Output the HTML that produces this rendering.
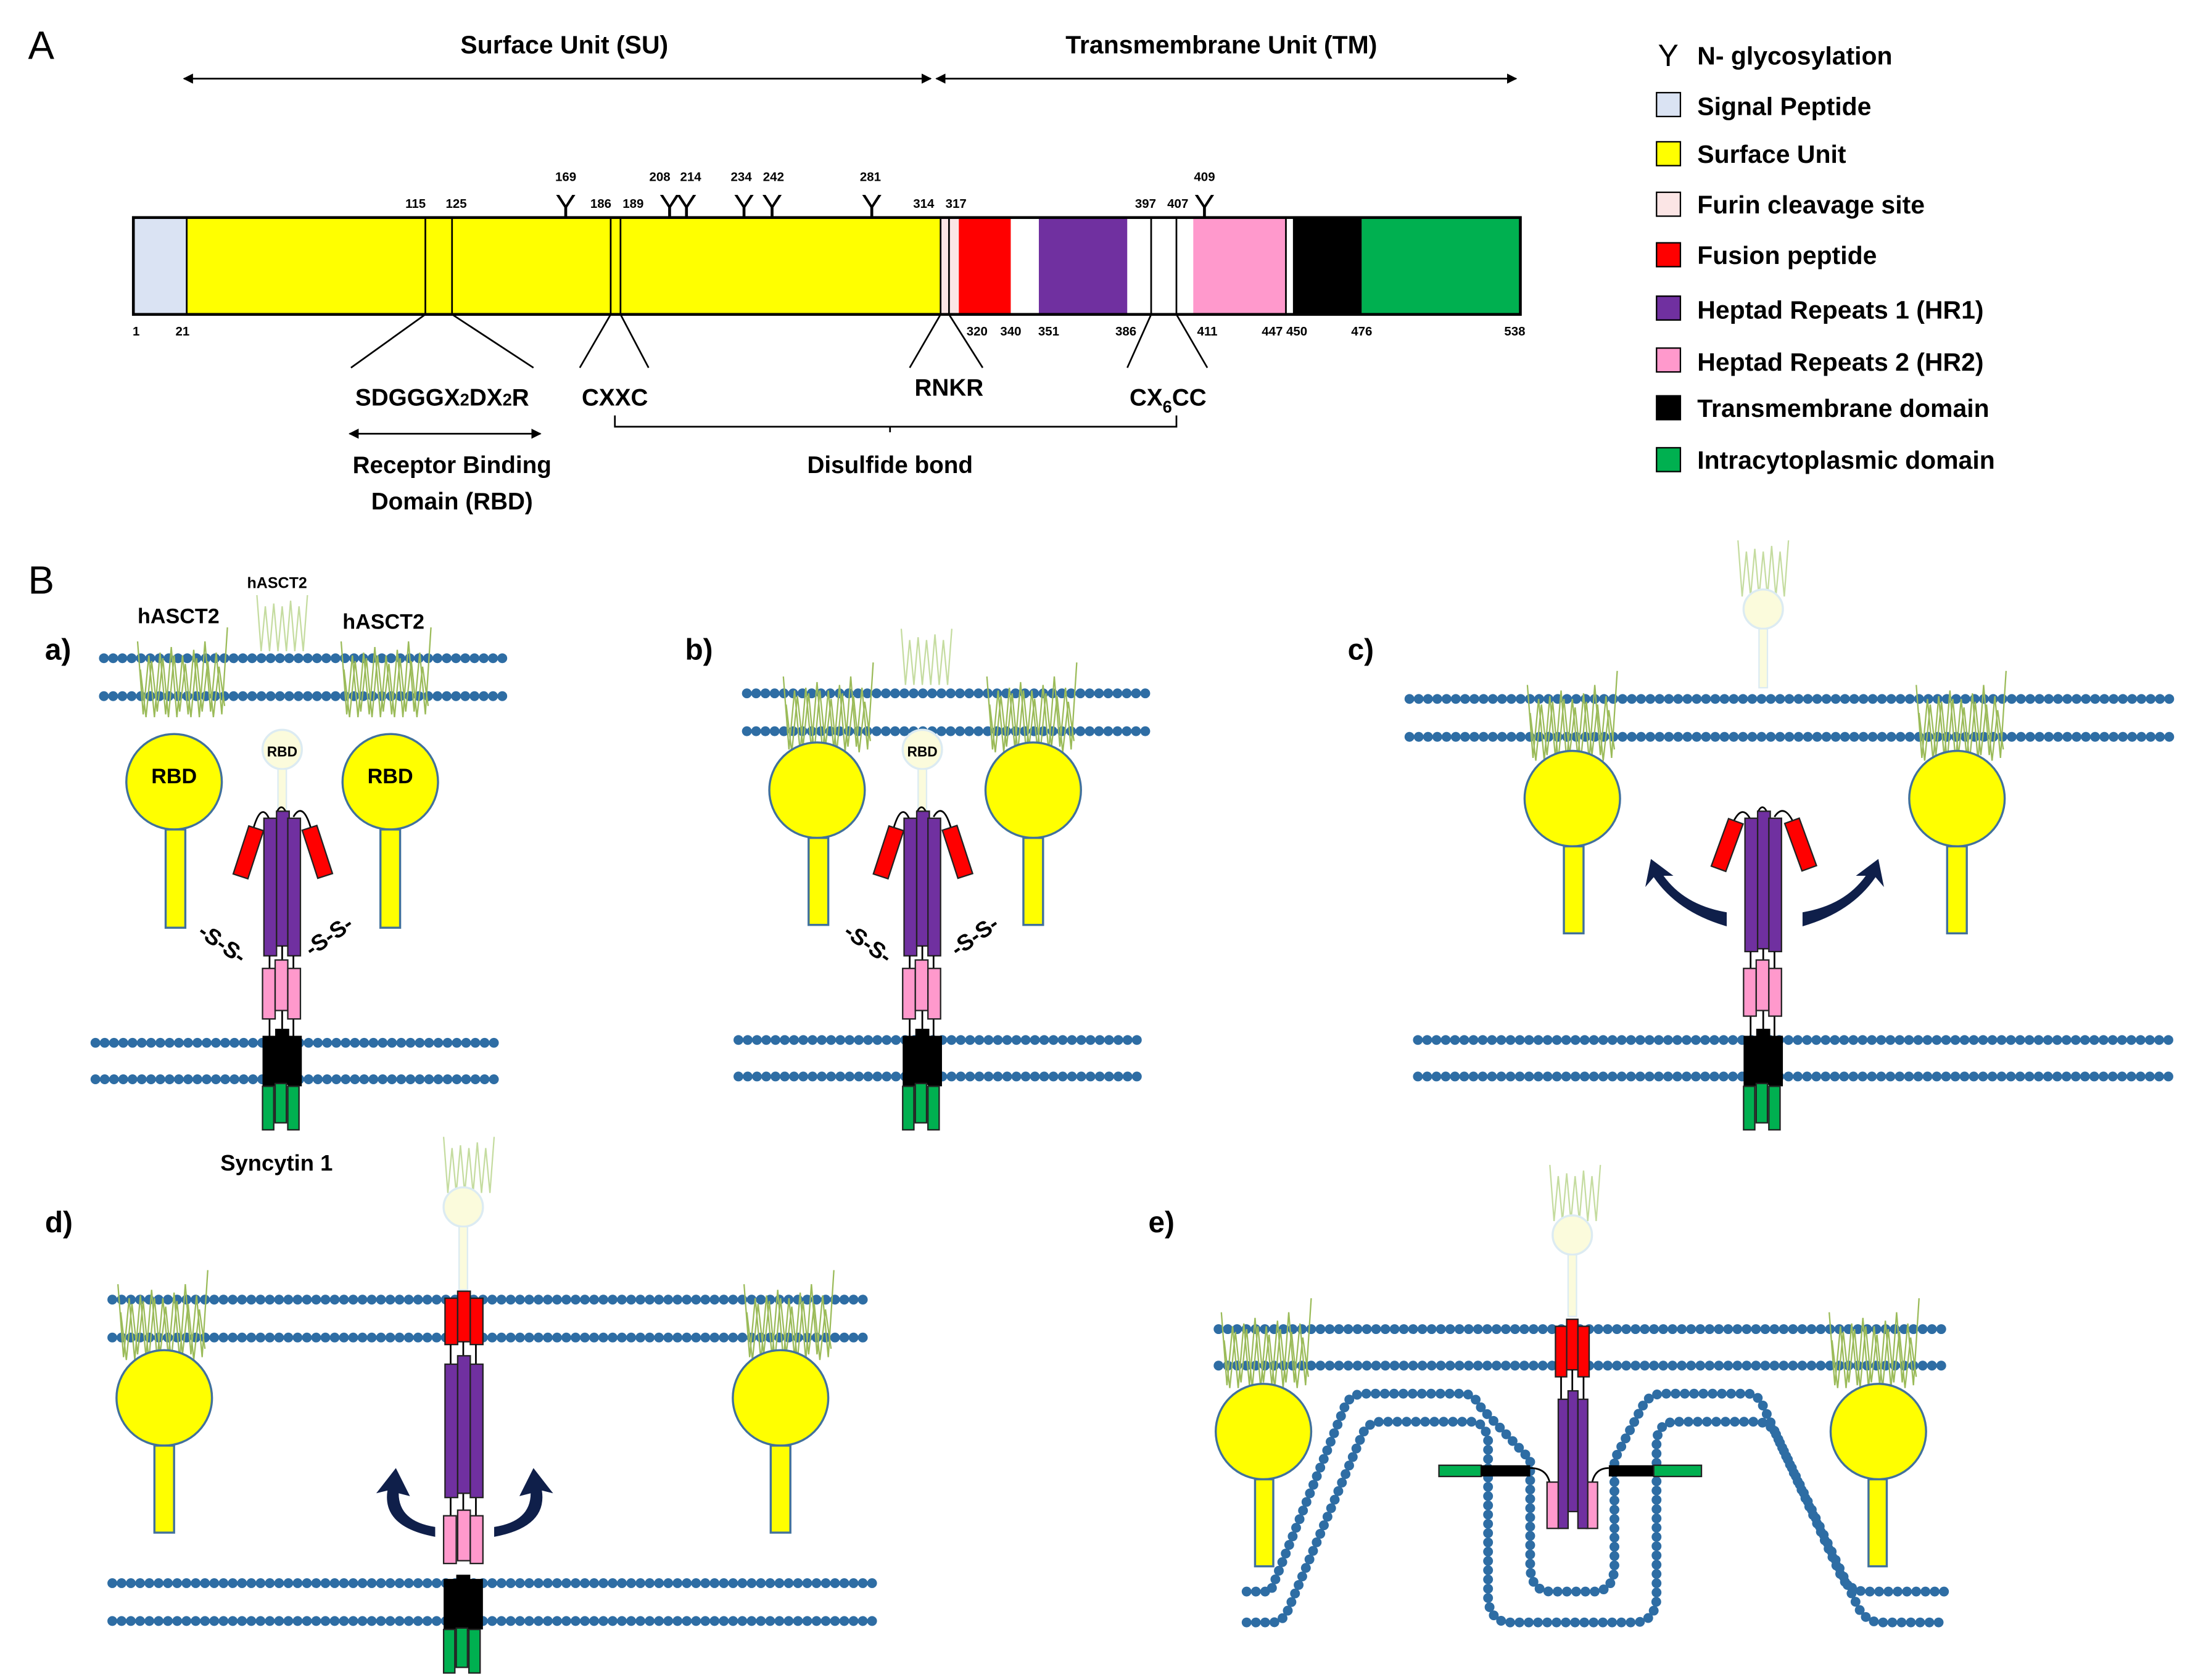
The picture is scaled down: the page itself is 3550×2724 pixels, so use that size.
<!DOCTYPE html>
<html><head><meta charset="utf-8"><style>
html,body{margin:0;padding:0;background:#fff;}
svg{display:block;}
text{font-family:"Liberation Sans",sans-serif;fill:#000;}
.m{fill:none;stroke:#2e6da4;stroke-width:7;stroke-dasharray:0 6.6;stroke-linecap:round;}
.b{font-weight:bold;}
.lg{font-size:18px;font-weight:bold;}
.n{font-size:9px;font-weight:bold;}
.ln{stroke:#000;stroke-width:1.2;fill:none;}
.pu{fill:#7030a0;stroke:#222;stroke-width:1}
.re{fill:#ff0000;stroke:#222;stroke-width:1}
.pk{fill:#ff99cc;stroke:#222;stroke-width:1}
.bk{fill:#000;}
.gr{fill:#00b050;stroke:#222;stroke-width:1}
.ye{fill:#ffff00;stroke:#41719c;stroke-width:1.5}
.hz{fill:none;stroke:#9bbb59;stroke-width:1}
.fz{fill:none;stroke:#c5dca0;stroke-width:1}
</style></head><body>
<svg width="3550" height="2724" viewBox="0 0 1560 1197" xmlns="http://www.w3.org/2000/svg">
<defs>
<marker id="ar" viewBox="0 0 10 10" refX="9" refY="5" markerWidth="6" markerHeight="6" orient="auto-start-reverse"><path d="M0,0L10,5L0,10z" fill="#000"/></marker>
<g id="hz"><polyline class="hz" points="0,10 4,62 8,20 12,64 16,18 20,62 24,14 28,64 32,20 36,62 40,16 44,64 48,10 52,60 56,18 60,62 64,0"/><polyline class="hz" points="2,30 6,64 10,24 14,60 18,22 22,64 26,20 30,60 34,26 38,64 42,22 46,60 50,24 54,64 58,28 62,56"/></g>
<g id="fz"><polyline class="fz" points="0,0 3,40 6,8 9,40 12,6 15,40 18,8 21,40 24,4 27,40 30,8 33,40 36,0"/></g>
</defs>

<!-- Panel A -->
<text x="20" y="42" font-size="28">A</text>
<text x="402" y="38" font-size="18" text-anchor="middle" class="b">Surface Unit (SU)</text>
<text x="870" y="38" font-size="18" text-anchor="middle" class="b">Transmembrane Unit (TM)</text>
<line x1="131" y1="56" x2="663" y2="56" class="ln" marker-start="url(#ar)" marker-end="url(#ar)"/>
<line x1="667" y1="56" x2="1080" y2="56" class="ln" marker-start="url(#ar)" marker-end="url(#ar)"/>

<rect x="95" y="155" width="38" height="69" fill="#dae3f3"/>
<rect x="133" y="155" width="537" height="69" fill="#ffff00"/>
<rect x="670" y="155" width="13" height="69" fill="#fbe5e5"/>
<rect x="683" y="155" width="37" height="69" fill="#ff0000"/>
<rect x="720" y="155" width="20" height="69" fill="#fff"/>
<rect x="740" y="155" width="63" height="69" fill="#7030a0"/>
<rect x="803" y="155" width="47" height="69" fill="#fff"/>
<rect x="850" y="155" width="66" height="69" fill="#ff99cc"/>
<rect x="921" y="155" width="49" height="69" fill="#000"/>
<rect x="970" y="155" width="113" height="69" fill="#00b050"/>
<rect x="95" y="155" width="988" height="69" fill="none" stroke="#000" stroke-width="2"/>
<g class="ln"><line x1="133" y1="155" x2="133" y2="224"/><line x1="303" y1="155" x2="303" y2="224"/><line x1="322" y1="155" x2="322" y2="224"/><line x1="435" y1="155" x2="435" y2="224"/><line x1="442" y1="155" x2="442" y2="224"/><line x1="670" y1="155" x2="670" y2="224"/><line x1="676" y1="155" x2="676" y2="224"/><line x1="820" y1="155" x2="820" y2="224"/><line x1="838" y1="155" x2="838" y2="224"/><line x1="916" y1="155" x2="916" y2="224"/>
<line x1="303" y1="224" x2="250" y2="262"/><line x1="322" y1="224" x2="380" y2="262"/><line x1="435" y1="224" x2="413" y2="262"/><line x1="442" y1="224" x2="462" y2="262"/><line x1="670" y1="224" x2="648" y2="262"/><line x1="676" y1="224" x2="700" y2="262"/><line x1="820" y1="224" x2="803" y2="262"/><line x1="838" y1="224" x2="860" y2="262"/>
<path d="M438,296V304H838V296M634,304V308"/></g>
<g class="n" text-anchor="middle">
<text x="97" y="239">1</text><text x="130" y="239">21</text><text x="696" y="239">320</text><text x="720" y="239">340</text><text x="747" y="239">351</text><text x="802" y="239">386</text><text x="860" y="239">411</text><text x="915" y="239">447 450</text><text x="970" y="239">476</text><text x="1079" y="239">538</text>
<text x="296" y="148">115</text><text x="325" y="148">125</text><text x="428" y="148">186</text><text x="451" y="148">189</text><text x="658" y="148">314</text><text x="681" y="148">317</text><text x="816" y="148">397</text><text x="839" y="148">407</text>
<text x="403" y="129">169</text><text x="470" y="129">208</text><text x="492" y="129">214</text><text x="528" y="129">234</text><text x="551" y="129">242</text><text x="620" y="129">281</text><text x="858" y="129">409</text>
</g>
<g font-size="22" text-anchor="middle"><text x="403" y="154">Y</text><text x="477" y="154">Y</text><text x="489" y="154">Y</text><text x="530" y="154">Y</text><text x="550" y="154">Y</text><text x="621" y="154">Y</text><text x="858" y="154">Y</text></g>
<g class="b" font-size="17" text-anchor="middle">
<text x="315" y="289">SDGGGX<tspan font-size="12">2</tspan>DX<tspan font-size="12">2</tspan>R</text>
<text x="438" y="289">CXXC</text><text x="676" y="282">RNKR</text><text x="832" y="289">CX<tspan font-size="12" dy="5">6</tspan><tspan dy="-5">CC</tspan></text>
<text x="322" y="337">Receptor Binding</text><text x="322" y="363">Domain (RBD)</text><text x="634" y="337">Disulfide bond</text>
</g>
<line x1="249" y1="309" x2="385" y2="309" class="ln" stroke-width="2" marker-start="url(#ar)" marker-end="url(#ar)"/>

<!-- Legend -->
<g class="lg">
<text x="1181" y="47" font-size="22" font-weight="normal">Y</text><text x="1209" y="46">N- glycosylation</text>
<rect x="1180" y="66" width="17" height="17" fill="#dae3f3" stroke="#000"/><text x="1209" y="82">Signal Peptide</text>
<rect x="1180" y="101" width="17" height="17" fill="#ffff00" stroke="#000"/><text x="1209" y="116">Surface Unit</text>
<rect x="1180" y="137" width="17" height="17" fill="#fbe5e5" stroke="#000"/><text x="1209" y="152">Furin cleavage site</text>
<rect x="1180" y="173" width="17" height="17" fill="#ff0000" stroke="#000"/><text x="1209" y="188">Fusion peptide</text>
<rect x="1180" y="211" width="17" height="17" fill="#7030a0" stroke="#000"/><text x="1209" y="227">Heptad Repeats 1 (HR1)</text>
<rect x="1180" y="248" width="17" height="17" fill="#ff99cc" stroke="#000"/><text x="1209" y="264">Heptad Repeats 2 (HR2)</text>
<rect x="1180" y="282" width="17" height="17" fill="#000" stroke="#000"/><text x="1209" y="297">Transmembrane domain</text>
<rect x="1180" y="319" width="17" height="17" fill="#00b050" stroke="#000"/><text x="1209" y="334">Intracytoplasmic domain</text>
</g>

<!-- Panel B -->
<text x="20" y="423" font-size="28">B</text>
<g class="b" font-size="21"><text x="32" y="470">a)</text><text x="488" y="470">b)</text><text x="960" y="470">c)</text><text x="32" y="878">d)</text><text x="818" y="878">e)</text></g>

<!-- a -->
<path class="m" d="M74,469H362M74,496H362M68,743H356M68,769H356"/>
<use href="#hz" x="98" y="447"/><use href="#hz" x="243" y="447"/>
<use href="#fz" x="183" y="424"/>
<g class="b" font-size="15"><text x="98" y="444">hASCT2</text><text x="244" y="448">hASCT2</text><text x="176" y="419" font-size="11">hASCT2</text></g>
<circle cx="124" cy="557" r="34" class="ye"/><rect x="118" y="591" width="14" height="70" class="ye"/>
<circle cx="278" cy="557" r="34" class="ye"/><rect x="271" y="591" width="14" height="70" class="ye"/>
<g class="b" font-size="15" text-anchor="middle"><text x="124" y="558">RBD</text><text x="278" y="558">RBD</text></g>

<g id="cx">
<circle cx="201" cy="534" r="14" fill="#fbfbdc" stroke="#dcebf2" stroke-width="1.5"/>
<text x="201" y="539" font-size="10" class="b" text-anchor="middle">RBD</text>
<rect x="198" y="548" width="6" height="32" fill="#fbfbdc" stroke="#dcebf2"/>
<path class="ln" stroke-width=".8" d="M180,592Q186,570 192,584M222,592Q216,570 209,582M197,579Q201,570 205,582"/>
<rect x="188" y="583" width="9" height="98" class="pu"/><rect x="197" y="578" width="9" height="96" class="pu"/><rect x="205" y="583" width="9" height="98" class="pu"/>
<rect x="-5" y="0" width="11" height="36" class="re" transform="translate(182,590) rotate(18)"/>
<rect x="-5" y="0" width="11" height="36" class="re" transform="translate(220,590) rotate(-18)"/>
<path class="ln" stroke-width=".8" d="M192,681V690M201,674V684M209,681V690M192,725V738M201,720V733M209,725V738"/>
<rect x="187" y="690" width="9" height="36" class="pk"/><rect x="196" y="684" width="9" height="36" class="pk"/><rect x="205" y="690" width="9" height="36" class="pk"/>
<rect x="187" y="738" width="10" height="36" class="bk"/><rect x="196" y="733" width="10" height="40" class="bk"/><rect x="205" y="738" width="10" height="36" class="bk"/>
<rect x="187" y="774" width="8" height="31" class="gr"/><rect x="196" y="772" width="8" height="28" class="gr"/><rect x="205" y="774" width="8" height="31" class="gr"/>
</g>
<g class="b" font-size="16"><text transform="translate(140,666) rotate(35)">-S-S-</text><text transform="translate(222,682) rotate(-35)">-S-S-</text></g>
<text x="197" y="834" class="b" font-size="16" text-anchor="middle">Syncytin 1</text>

<!-- b -->
<path class="m" d="M532,494H820M532,521H820M526,741H814M526,767H814"/>
<use href="#hz" x="558" y="472"/><use href="#hz" x="703" y="472"/>
<use href="#fz" x="642" y="448"/>
<circle cx="582" cy="563" r="34" class="ye"/><rect x="576" y="597" width="14" height="62" class="ye"/>
<circle cx="736" cy="563" r="34" class="ye"/><rect x="729" y="597" width="14" height="62" class="ye"/>
<use href="#cx" x="456" y="0"/>
<g class="b" font-size="16"><text transform="translate(600,666) rotate(35)">-S-S-</text><text transform="translate(682,682) rotate(-35)">-S-S-</text></g>

<!-- c -->
<path class="m" d="M1004,498H1546M1004,525H1546M1010,741H1546M1010,767H1546"/>
<use href="#hz" x="1088" y="478"/><use href="#hz" x="1365" y="478"/>
<use href="#fz" x="1238" y="385"/>
<circle cx="1120" cy="569" r="34" class="ye"/><rect x="1114" y="603" width="14" height="62" class="ye"/>
<circle cx="1394" cy="569" r="34" class="ye"/><rect x="1387" y="603" width="14" height="62" class="ye"/>
<circle cx="1256" cy="434" r="14" fill="#fbfbdc" stroke="#dcebf2" stroke-width="1.5"/>
<rect x="1253" y="448" width="6" height="42" fill="#fbfbdc" stroke="#dcebf2"/>
<path class="ln" stroke-width=".8" d="M1232,592Q1240,570 1247,584M1280,592Q1272,570 1264,582M1252,579Q1256,570 1260,582"/>
<rect x="1243" y="583" width="9" height="95" class="pu"/><rect x="1252" y="578" width="9" height="98" class="pu"/><rect x="1260" y="583" width="9" height="95" class="pu"/>
<rect x="-5" y="0" width="11" height="36" class="re" transform="translate(1236,585) rotate(20)"/>
<rect x="-5" y="0" width="11" height="36" class="re" transform="translate(1276,585) rotate(-20)"/>
<path class="ln" stroke-width=".8" d="M1247,678V690M1256,676V684M1264,678V690M1247,724V738M1256,720V733M1264,724V738"/>
<rect x="1242" y="690" width="9" height="34" class="pk"/><rect x="1251" y="684" width="9" height="36" class="pk"/><rect x="1260" y="690" width="9" height="34" class="pk"/>
<rect x="1242" y="738" width="10" height="36" class="bk"/><rect x="1251" y="733" width="10" height="40" class="bk"/><rect x="1260" y="738" width="10" height="36" class="bk"/>
<rect x="1242" y="774" width="8" height="31" class="gr"/><rect x="1251" y="772" width="8" height="28" class="gr"/><rect x="1260" y="774" width="8" height="31" class="gr"/>
<path d="M1230,660Q1195,650 1178,625L1172,632L1176,612L1192,624L1185,624Q1200,645 1230,650Z" fill="#0f1f4a"/>
<path d="M1284,660Q1319,650 1336,625L1342,632L1338,612L1322,624L1329,624Q1314,645 1284,650Z" fill="#0f1f4a"/>

<!-- d -->
<path class="m" d="M80,926H620M80,953H620M80,1128H626M80,1155H626"/>
<use href="#hz" x="84" y="905"/><use href="#hz" x="530" y="905"/>
<use href="#fz" x="316" y="810"/>
<circle cx="330" cy="860" r="14" fill="#fbfbdc" stroke="#dcebf2" stroke-width="1.5"/>
<rect x="327" y="874" width="6" height="45" fill="#fbfbdc" stroke="#dcebf2"/>
<circle cx="117" cy="996" r="34" class="ye"/><rect x="110" y="1030" width="14" height="62" class="ye"/>
<circle cx="556" cy="996" r="34" class="ye"/><rect x="549" y="1030" width="14" height="62" class="ye"/>
<rect x="317" y="925" width="9" height="33" class="re"/><rect x="326" y="920" width="9" height="36" class="re"/><rect x="335" y="925" width="9" height="33" class="re"/>
<path class="ln" stroke-width=".8" d="M321,958V972M339,958V972M330,956V966M321,1067V1080M339,1067V1080M330,1064V1076"/>
<rect x="317" y="972" width="9" height="95" class="pu"/><rect x="326" y="966" width="9" height="98" class="pu"/><rect x="335" y="972" width="9" height="95" class="pu"/>
<rect x="316" y="1080" width="9" height="34" class="pk"/><rect x="326" y="1076" width="9" height="36" class="pk"/><rect x="335" y="1080" width="9" height="34" class="pk"/>
<rect x="316" y="1125" width="10" height="36" class="bk"/><rect x="325" y="1122" width="10" height="40" class="bk"/><rect x="334" y="1125" width="10" height="36" class="bk"/>
<rect x="316" y="1161" width="8" height="31" class="gr"/><rect x="325" y="1160" width="8" height="28" class="gr"/><rect x="334" y="1161" width="8" height="31" class="gr"/>
<path d="M310,1095Q272,1088 276,1062L268,1064L282,1046L292,1066L284,1064Q284,1084 310,1088Z" fill="#0f1f4a"/>
<path d="M352,1095Q390,1088 386,1062L394,1064L380,1046L370,1066L378,1064Q378,1084 352,1088Z" fill="#0f1f4a"/>

<!-- e -->
<path class="m" d="M868,947H1386M868,973H1386"/>
<path class="m" d="M888,1134H905L958,1002Q962,993 972,993H1042Q1050,993 1055,1003L1090,1040V1115Q1090,1134 1105,1134H1135Q1150,1134 1150,1115V1040L1170,1002Q1175,993 1185,993H1245Q1252,993 1256,1002L1312,1124Q1318,1134 1330,1134H1385"/>
<path class="m" d="M888,1156H906Q914,1156 918,1146L970,1023Q974,1013 984,1013H1048Q1058,1013 1060,1026V1140Q1062,1156 1076,1156H1164Q1178,1156 1180,1140V1026Q1182,1013 1194,1013H1250Q1262,1013 1266,1024L1324,1146Q1330,1156 1340,1156H1385"/>
<use href="#hz" x="870" y="925"/><use href="#hz" x="1303" y="925"/>
<use href="#fz" x="1104" y="830"/>
<circle cx="1120" cy="880" r="14" fill="#fbfbdc" stroke="#dcebf2" stroke-width="1.5"/>
<rect x="1117" y="894" width="6" height="44" fill="#fbfbdc" stroke="#dcebf2"/>
<circle cx="900" cy="1020" r="34" class="ye"/><rect x="894" y="1054" width="13" height="62" class="ye"/>
<circle cx="1338" cy="1020" r="34" class="ye"/><rect x="1331" y="1054" width="13" height="62" class="ye"/>
<rect x="1108" y="945" width="8" height="36" class="re"/><rect x="1116" y="940" width="8" height="36" class="re"/><rect x="1124" y="945" width="8" height="36" class="re"/>
<path class="ln" stroke-width=".8" d="M1112,981V998M1128,981V998M1120,976V992M1090,1046Q1102,1046 1104,1057M1146,1046Q1136,1046 1134,1057"/>
<rect x="1102" y="1056" width="8" height="33" class="pk"/><rect x="1130" y="1056" width="8" height="33" class="pk"/>
<rect x="1110" y="997" width="7" height="92" class="pu"/><rect x="1117" y="991" width="7" height="86" class="pu"/><rect x="1124" y="997" width="7" height="92" class="pu"/>
<rect x="1025" y="1044" width="30" height="8" class="gr"/><rect x="1055" y="1044" width="35" height="8" class="bk"/>
<rect x="1146" y="1044" width="32" height="8" class="bk"/><rect x="1178" y="1044" width="34" height="8" class="gr"/>
</svg>
</body></html>
